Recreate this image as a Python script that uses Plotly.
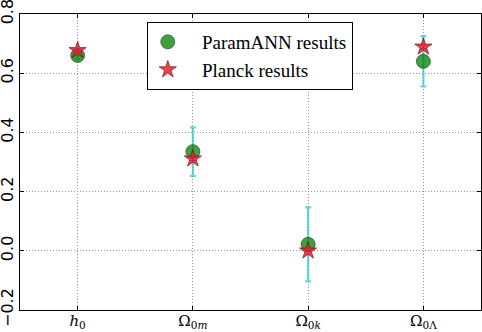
import plotly.graph_objects as go

params = [0, 1, 2, 3]
tick_labels = ["<i>h</i><sub>0</sub>", "Ω<sub>0<i>m</i></sub>", "Ω<sub>0<i>k</i></sub>", "Ω<sub>0Λ</sub>"]
ann_values = [0.660, 0.335, 0.022, 0.640]
ann_errors = [0.012, 0.082, 0.125, 0.085]
planck_values = [0.677, 0.311, 0.000, 0.689]
planck_errors = [0.004, 0.006, 0.002, 0.006]
series_names = ["&nbsp;&nbsp;&nbsp;ParamANN results", "&nbsp;&nbsp;&nbsp;Planck results"]

fig = go.Figure()
fig.add_trace(go.Scatter(
    x=params, y=ann_values, mode="markers", name=series_names[0],
    marker=dict(symbol="circle", size=14, color="rgba(0,128,0,0.75)",
                line=dict(color="rgba(40,60,40,0.8)", width=0.8)),
    error_y=dict(type="data", array=ann_errors, visible=True,
                 color="rgba(0,191,191,0.6)", thickness=2.2, width=3),
))
fig.add_trace(go.Scatter(
    x=params, y=planck_values, mode="markers", name=series_names[1],
    marker=dict(symbol="star", size=13, color="rgba(235,30,45,0.85)",
                line=dict(color="rgba(90,20,20,0.8)", width=0.8)),
    error_y=dict(type="data", array=planck_errors, visible=True,
                 color="rgba(0,0,255,0.7)", thickness=1.2, width=3),
))

fig.update_layout(
    width=482, height=332,
    margin=dict(l=20, r=1, t=14, b=22),
    paper_bgcolor="white", plot_bgcolor="white",
    showlegend=True,
    legend=dict(x=0.275, y=0.973, xanchor="left", yanchor="top",
                bordercolor="black", borderwidth=1, bgcolor="white",
                font=dict(family="Liberation Serif, DejaVu Serif, serif", size=19, color="black"),
                tracegroupgap=0),
)
grid_dash = "1px,2px"
fig.update_xaxes(
    range=[-0.5, 3.5], tickmode="array", tickvals=params, ticktext=tick_labels,
    showgrid=True, gridcolor="#999999", griddash=grid_dash, gridwidth=1,
    zeroline=False, showline=True, linecolor="black", linewidth=1, mirror="ticks",
    ticks="inside", ticklen=4, tickcolor="black",
    tickfont=dict(family="DejaVu Serif, serif", size=15, color="black"),
    ticklabeloverflow="allow", ticklabelstandoff=-3,
    automargin=False,
)
fig.update_yaxes(
    range=[-0.2, 0.8], tickmode="array", tickvals=[-0.2, 0.0, 0.2, 0.4, 0.6, 0.8],
    ticktext=["\u22120.2", "0.0", "0.2", "0.4", "0.6", "0.8"],
    tickangle=-90,
    showgrid=True, gridcolor="#999999", griddash=grid_dash, gridwidth=1,
    zeroline=False, showline=True, linecolor="black", linewidth=1, mirror="ticks",
    ticks="inside", ticklen=4, tickcolor="black",
    tickfont=dict(family="DejaVu Sans, sans-serif", size=16, color="black"),
    ticklabeloverflow="allow",
    automargin=False,
)

fig.write_html("out.html", config={"displayModeBar": False},
               post_script="document.body.style.margin='0';document.body.style.overflow='hidden';")
